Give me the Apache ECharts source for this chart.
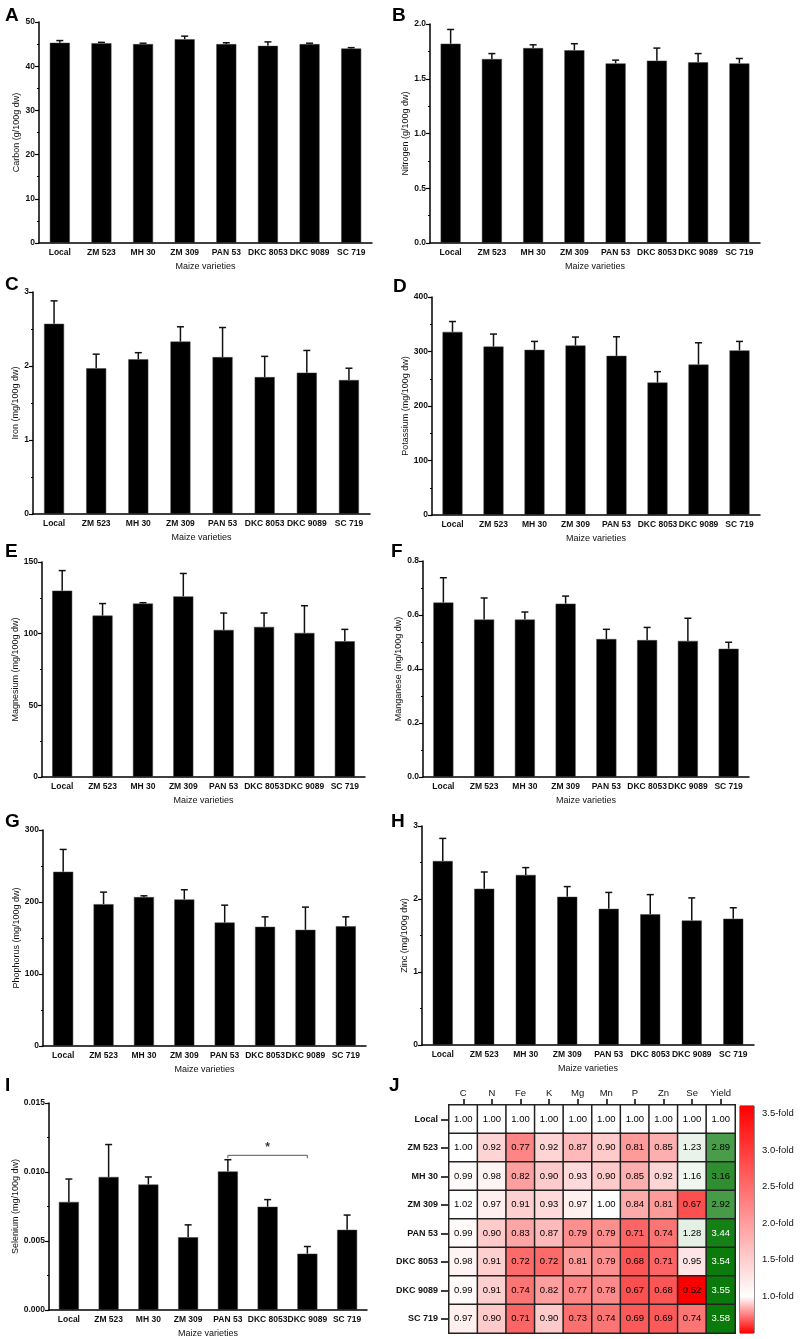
<!DOCTYPE html>
<html><head><meta charset="utf-8">
<script src="https://cdn.jsdelivr.net/npm/echarts@6/dist/echarts.min.js"></script>
<style>html,body{margin:0;padding:0;background:#fff}#c{width:800px;height:1339px}</style>
</head><body><div id="c"></div>
<script>
// ---------- data ----------
const varieties = ['Local','ZM 523','MH 30','ZM 309','PAN 53','DKC 8053','DKC 9089','SC 719'];

const carbonMean = [45.3, 45.2, 45.0, 46.1, 45.0, 44.6, 45.0, 44.0];
const carbonErr  = [0.5, 0.2, 0.2, 0.7, 0.3, 0.9, 0.2, 0.2];
const nitrogenMean = [1.82, 1.68, 1.78, 1.76, 1.64, 1.665, 1.65, 1.64];
const nitrogenErr  = [0.13, 0.05, 0.03, 0.06, 0.03, 0.115, 0.08, 0.045];
const ironMean = [2.57, 1.97, 2.09, 2.33, 2.12, 1.85, 1.91, 1.81];
const ironErr  = [0.31, 0.19, 0.09, 0.20, 0.40, 0.28, 0.30, 0.16];
const potassiumMean = [336, 309, 303, 311, 292, 243, 276, 302];
const potassiumErr  = [19, 23, 15.5, 15.5, 35, 20, 40, 16.5];
const magnesiumMean = [130, 112.6, 121, 126, 102.6, 104.7, 100.5, 94.7];
const magnesiumErr  = [14, 8.4, 0.6, 16, 11.8, 9.7, 19, 8.3];
const manganeseMean = [0.646, 0.583, 0.583, 0.642, 0.511, 0.507, 0.504, 0.475];
const manganeseErr  = [0.092, 0.080, 0.028, 0.028, 0.036, 0.047, 0.084, 0.024];
const phosphorusMean = [242, 197, 206.8, 203.5, 171.5, 165.5, 161.3, 166.4];
const phosphorusErr  = [31, 16.7, 1.8, 13.5, 24.1, 13.9, 31.6, 13];
const zincMean = [2.52, 2.14, 2.33, 2.03, 1.865, 1.79, 1.705, 1.73];
const zincErr  = [0.31, 0.23, 0.10, 0.14, 0.225, 0.27, 0.31, 0.15];
const seleniumMean = [0.00783, 0.00964, 0.00909, 0.00527, 0.01004, 0.00748, 0.00408, 0.00581];
const seleniumErr  = [0.00166, 0.00235, 0.00055, 0.0009, 0.00085, 0.00052, 0.00052, 0.00107];

// significance bracket in panel I
const sigFrom = 'PAN 53', sigTo = 'DKC 9089', sigMid = 'DKC 8053';
const sigLevel = 0.0112, sigFoot = 0.0110, sigText = '*';

// heatmap (fold change vs Local)
const heatCols = ['C','N','Fe','K','Mg','Mn','P','Zn','Se','Yield'];
const heatRows = ['Local','ZM 523','MH 30','ZM 309','PAN 53','DKC 8053','DKC 9089','SC 719'];
const heatLocal   = [1.00,1.00,1.00,1.00,1.00,1.00,1.00,1.00,1.00,1.00];
const heatZM523   = [1.00,0.92,0.77,0.92,0.87,0.90,0.81,0.85,1.23,2.89];
const heatMH30    = [0.99,0.98,0.82,0.90,0.93,0.90,0.85,0.92,1.16,3.16];
const heatZM309   = [1.02,0.97,0.91,0.93,0.97,1.00,0.84,0.81,0.67,2.92];
const heatPAN53   = [0.99,0.90,0.83,0.87,0.79,0.79,0.71,0.74,1.28,3.44];
const heatDKC8053 = [0.98,0.91,0.72,0.72,0.81,0.79,0.68,0.71,0.95,3.54];
const heatDKC9089 = [0.99,0.91,0.74,0.82,0.77,0.78,0.67,0.68,0.52,3.55];
const heatSC719   = [0.97,0.90,0.71,0.90,0.73,0.74,0.69,0.69,0.74,3.58];
const heatValues = [heatLocal,heatZM523,heatMH30,heatZM309,heatPAN53,heatDKC8053,heatDKC9089,heatSC719];

const foldTicks = [1.0,1.5,2.0,2.5,3.0,3.5];

// ---------- layout / style ----------
const FONT = 'Liberation Sans, Arial, Helvetica, sans-serif';
const panels = [
  {L:'A', name:'Carbon (g/100g dw)', mean:carbonMean, err:carbonErr, max:50, interval:10, dec:0, g:{left:39,top:22,width:333,height:221}, gap:18, lp:[5,6]},
  {L:'B', name:'Nitrogen (g/100g dw)', mean:nitrogenMean, err:nitrogenErr, max:2.0, interval:0.5, dec:1, g:{left:430,top:24,width:330,height:219}, gap:17, lp:[392,6]},
  {L:'C', name:'Iron (mg/100g dw)', mean:ironMean, err:ironErr, max:3, interval:1, dec:0, g:{left:33,top:292,width:337,height:222}, gap:12, lp:[5,275]},
  {L:'D', name:'Potassium (mg/100g dw)', mean:potassiumMean, err:potassiumErr, max:400, interval:100, dec:0, g:{left:432,top:297,width:328,height:218}, gap:19, lp:[393,277]},
  {L:'E', name:'Magnesium (mg/100g dw)', mean:magnesiumMean, err:magnesiumErr, max:150, interval:50, dec:0, g:{left:42,top:562,width:323,height:215}, gap:18, lp:[5,542]},
  {L:'F', name:'Manganese (mg/100g dw)', mean:manganeseMean, err:manganeseErr, max:0.8, interval:0.2, dec:1, g:{left:423,top:561,width:326,height:216}, gap:16, lp:[391,542]},
  {L:'G', name:'Phophorus (mg/100g dw)', mean:phosphorusMean, err:phosphorusErr, max:300, interval:100, dec:0, g:{left:43,top:830,width:323,height:216}, gap:19, lp:[5,812]},
  {L:'H', name:'Zinc (mg/100g dw)', mean:zincMean, err:zincErr, max:3, interval:1, dec:0, g:{left:422,top:826,width:332,height:219}, gap:10, lp:[391,812]},
  {L:'I', name:'Selenium (mg/100g dw)', mean:seleniumMean, err:seleniumErr, max:0.015, interval:0.005, dec:3, g:{left:49,top:1103,width:318,height:210}, gap:25, lp:[5,1076]}
];

const grid = [], xAxis = [], yAxis = [], series = [], graphic = [];
const black = '#000';

panels.forEach((p, i) => {
  grid.push(Object.assign({containLabel:false}, p.g));
  xAxis.push({
    type:'category', gridIndex:i, data:varieties,
    axisLine:{lineStyle:{color:black,width:1.5}},
    axisTick:{alignWithLabel:true,length:4,lineStyle:{color:black,width:1.2}},
    axisLabel:{interval:0,fontSize:8.5,fontWeight:'bold',color:'#111',margin:5,fontFamily:FONT},
    name:'Maize varieties', nameLocation:'middle', nameGap:19,
    nameTextStyle:{fontSize:9,color:'#111',fontFamily:FONT}
  });
  yAxis.push({
    type:'value', gridIndex:i, min:0, max:p.max, interval:p.interval,
    axisLine:{show:true,lineStyle:{color:black,width:1.5}},
    axisTick:{show:true,length:4,lineStyle:{color:black,width:1.2}},
    minorTick:{show:true,splitNumber:2,length:2,lineStyle:{color:black,width:1}},
    splitLine:{show:false},
    axisLabel:{fontSize:8.5,fontWeight:'bold',color:'#111',margin:4,fontFamily:FONT,formatter:(v)=>v.toFixed(p.dec)},
    name:p.name, nameLocation:'middle', nameGap:p.gap, nameRotate:90,
    nameTextStyle:{fontSize:9,color:'#111',fontFamily:FONT}
  });
  series.push({
    type:'bar', xAxisIndex:i, yAxisIndex:i, data:p.mean, barWidth:20, silent:true,
    itemStyle:{color:'#000',borderColor:'#444',borderWidth:0.5}
  });
  series.push({
    type:'custom', xAxisIndex:i, yAxisIndex:i, silent:true,
    data:p.mean.map((m,k)=>[k, m, p.err[k]]),
    encode:{x:0,y:1},
    renderItem:function(params, api){
      const x = api.value(0), m = api.value(1), e = api.value(2);
      const p0 = api.coord([x, m]);
      const p1 = api.coord([x, m + e]);
      const st = {stroke:'#111', lineWidth:1.5};
      return {type:'group', children:[
        {type:'line', shape:{x1:p0[0],y1:p0[1],x2:p1[0],y2:p1[1]}, style:st},
        {type:'line', shape:{x1:p1[0]-3.5,y1:p1[1],x2:p1[0]+3.5,y2:p1[1]}, style:st}
      ]};
    }
  });
  graphic.push({type:'text', left:p.lp[0], top:p.lp[1],
    style:{text:p.L, fontSize:19, fontWeight:'bold', fill:black, fontFamily:FONT}});
});

// significance bracket on panel I (index 8)
series.push({
  type:'line', xAxisIndex:8, yAxisIndex:8, silent:true, symbol:'none',
  data:[[sigFrom,sigFoot],[sigFrom,sigLevel],[sigTo,sigLevel],[sigTo,sigFoot]],
  lineStyle:{color:'#777',width:1.2}
});
series.push({
  type:'scatter', xAxisIndex:8, yAxisIndex:8, silent:true, symbolSize:1,
  itemStyle:{color:'transparent'},
  data:[[sigMid, sigLevel]],
  label:{show:true, formatter:sigText, position:'top', distance:1, fontSize:12, fontWeight:'bold', color:black, fontFamily:FONT}
});

// ---------- heatmap J ----------
const hIdx = panels.length; // 9
grid.push({left:449, top:1105, width:286, height:228, containLabel:false});
xAxis.push({
  type:'category', gridIndex:hIdx, data:heatCols, position:'top',
  axisLine:{show:false},
  axisTick:{show:true,alignWithLabel:true,length:6,lineStyle:{color:black,width:1.5}},
  axisLabel:{fontSize:9.5,color:'#111',margin:7,fontFamily:FONT},
  splitLine:{show:false}
});
yAxis.push({
  type:'category', gridIndex:hIdx, data:heatRows, inverse:true,
  axisLine:{show:false},
  axisTick:{show:true,alignWithLabel:true,length:8,lineStyle:{color:black,width:1.5}},
  axisLabel:{fontSize:9,fontWeight:'bold',color:'#111',margin:11,fontFamily:FONT},
  splitLine:{show:false}
});
function mix(c1, c2, t){
  t = Math.max(0, Math.min(1, t));
  const r = Math.round(c1[0]+(c2[0]-c1[0])*t);
  const g = Math.round(c1[1]+(c2[1]-c1[1])*t);
  const b = Math.round(c1[2]+(c2[2]-c1[2])*t);
  return 'rgb('+r+','+g+','+b+')';
}
function cellColor(v){
  if (v < 1) return mix([255,255,255],[250,0,0],(1-v)/0.48);
  return mix([255,255,255],[10,122,10],(v-1)/2.55);
}
const heatData = [];
heatValues.forEach((row, r) => row.forEach((v, c) => {
  heatData.push({value:[c, r, v], itemStyle:{color:cellColor(v)},
    label:{color: v >= 3.3 ? '#fff' : '#000'}});
}));
series.push({
  type:'heatmap', xAxisIndex:hIdx, yAxisIndex:hIdx, data:heatData, silent:true,
  itemStyle:{borderColor:'#222',borderWidth:1.5},
  label:{show:true,fontSize:9.5,fontFamily:FONT,formatter:(p)=>p.value[2].toFixed(2)}
});

// ---------- colour bar ----------
const cIdx = hIdx + 1;
grid.push({left:740, top:1106, width:14, height:227, containLabel:false, show:true, borderColor:'#222', borderWidth:1});
xAxis.push({type:'category', gridIndex:cIdx, data:['bar'], show:false});
yAxis.push({
  type:'value', gridIndex:cIdx, min:0.5, max:3.6, position:'right',
  axisLine:{show:false}, splitLine:{show:false},
  axisTick:{show:true,inside:true,length:8,customValues:foldTicks,lineStyle:{color:'#222',width:1.5}},
  axisLabel:{customValues:foldTicks,fontSize:9.5,color:'#111',margin:8,fontFamily:FONT,formatter:(v)=>v.toFixed(1)+'-fold'}
});
series.push({type:'bar', xAxisIndex:cIdx, yAxisIndex:cIdx, stack:'cb', silent:true, barWidth:'100%',
  data:[0.5], itemStyle:{color:'transparent'}});
series.push({type:'bar', xAxisIndex:cIdx, yAxisIndex:cIdx, stack:'cb', silent:true, barWidth:'100%',
  data:[3.1], itemStyle:{color:new echarts.graphic.LinearGradient(0,0,0,1,[
    {offset:0,color:'#ff0000'},
    {offset:(3.6-1.0)/3.1,color:'#ffffff'},
    {offset:1,color:'#ff0000'}
  ])}});

graphic.push({type:'text', left:389, top:1076,
  style:{text:'J', fontSize:19, fontWeight:'bold', fill:black, fontFamily:FONT}});

const chart = echarts.init(document.getElementById('c'), null, {renderer:'canvas'});
chart.setOption({
  animation:false,
  backgroundColor:'#fff',
  textStyle:{fontFamily:FONT},
  grid, xAxis, yAxis, series, graphic
});
</script></body></html>
